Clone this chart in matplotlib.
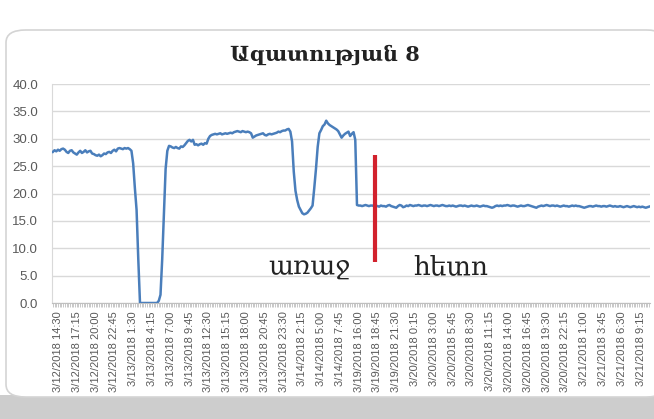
import numpy as np
import pandas as pd
import matplotlib
matplotlib.use("Agg")
import matplotlib.pyplot as plt
from matplotlib.patches import FancyBboxPatch, Rectangle

# temperature readings, 15 minute steps
# first block: 3/12/2018 13:45 .. 3/14/2018 10:00
seg1_start = "2018-03-12 13:45"
seg1 = [
    27.6, 27.9, 27.7, 28.0, 27.8, 28.1, 28.2, 28.0, 27.6, 27.4, 27.8,
    27.9, 27.5, 27.3, 27.1, 27.5, 27.8, 27.4, 27.6, 27.9, 27.5, 27.7,
    27.8, 27.3, 27.2, 27.0, 26.9, 27.1, 26.8, 27.0, 27.3, 27.2, 27.5,
    27.6, 27.4, 27.8, 28.0, 27.7, 28.2, 28.3, 28.2, 28.1, 28.3, 28.2,
    28.3, 28.1, 27.8, 25.5, 21.0, 17.0, 8.0, 0.0, 0.0, 0.0, 0.0,
    0.0, 0.0, 0.0, 0.0, 0.0, 0.0, 0.0, 0.4, 1.5, 8.0, 16.0,
    24.5, 27.8, 28.7, 28.6, 28.4, 28.3, 28.5, 28.3, 28.2, 28.6, 28.5,
    28.8, 29.2, 29.6, 29.8, 29.5, 29.8, 28.9, 29.0, 28.8, 29.0, 29.1,
    28.9, 29.2, 29.1, 30.0, 30.5, 30.7, 30.8, 30.9, 30.8, 30.9, 31.0,
    30.8, 30.9, 31.0, 30.9, 31.0, 31.1, 31.0, 31.2, 31.3, 31.4, 31.3,
    31.2, 31.4, 31.3, 31.2, 31.3, 31.2, 31.0, 30.2, 30.4, 30.6, 30.7,
    30.8, 30.9, 31.0, 30.7, 30.6, 30.8, 30.9, 30.8, 30.9, 31.0, 31.1,
    31.3, 31.2, 31.4, 31.5, 31.5, 31.7, 31.8, 31.3, 29.5, 24.0, 20.5,
    18.8, 17.6, 17.0, 16.4, 16.2, 16.3, 16.5, 16.9, 17.3, 17.8, 21.0,
    24.5, 28.5, 31.0, 31.6, 32.3, 32.6, 33.3, 32.8, 32.5, 32.3, 32.1,
    31.9, 31.7, 31.4, 30.8, 30.2, 30.6, 30.9, 31.1, 31.3, 30.5, 30.9,
    31.2, 29.8,
]
# second block: 3/19/2018 15:45 .. 3/21/2018 10:15
seg2_start = "2018-03-19 15:45"
seg2 = [
    17.9, 17.8, 17.8, 17.7, 17.8, 17.9, 17.8, 17.7, 17.8, 17.8, 17.7,
    17.8, 17.7, 17.6, 17.8, 17.7, 17.7, 17.6, 17.8, 17.9, 17.7, 17.6,
    17.5, 17.4, 17.7, 17.9, 17.8, 17.5, 17.6, 17.8, 17.7, 17.9, 17.8,
    17.7, 17.8, 17.8, 17.9, 17.8, 17.7, 17.8, 17.8, 17.7, 17.8, 17.9,
    17.8, 17.7, 17.8, 17.8, 17.7, 17.8, 17.9, 17.8, 17.7, 17.7, 17.8,
    17.7, 17.8, 17.7, 17.6, 17.7, 17.8, 17.8, 17.7, 17.8, 17.7, 17.6,
    17.7, 17.8, 17.7, 17.7, 17.8, 17.7, 17.6, 17.7, 17.8, 17.7, 17.7,
    17.6, 17.5, 17.4, 17.5, 17.7, 17.8, 17.7, 17.8, 17.7, 17.8, 17.8,
    17.9, 17.8, 17.7, 17.8, 17.8, 17.7, 17.6, 17.7, 17.8, 17.7, 17.7,
    17.8, 17.9, 17.8, 17.7, 17.6, 17.5, 17.4, 17.6, 17.7, 17.8, 17.7,
    17.8, 17.9, 17.8, 17.7, 17.8, 17.8, 17.7, 17.8, 17.7, 17.6, 17.7,
    17.8, 17.7, 17.7, 17.6, 17.7, 17.8, 17.7, 17.8, 17.7, 17.7, 17.6,
    17.5, 17.4, 17.5, 17.6, 17.7, 17.7, 17.6, 17.7, 17.8, 17.7, 17.7,
    17.6, 17.7, 17.7, 17.6, 17.7, 17.8, 17.7, 17.6, 17.7, 17.6, 17.6,
    17.7, 17.6, 17.5, 17.6, 17.7, 17.6, 17.5, 17.6, 17.7, 17.6, 17.5,
    17.6, 17.5, 17.6, 17.5, 17.4, 17.5, 17.6,
]

title = "Ազատության 8"
before_label = "առաջ"
after_label = "հետո"

times = list(pd.date_range(seg1_start, periods=len(seg1), freq="15min")) + \
        list(pd.date_range(seg2_start, periods=len(seg2), freq="15min"))
values = seg1 + seg2
labels = [f"{t.month}/{t.day}/{t.year} {t.hour}:{t.minute:02d}" for t in times]
x = np.arange(len(values))

fig = plt.figure(figsize=(6.54, 4.19), dpi=100)
fig.patch.set_facecolor("white")

# card background + shadow band
fig.patches.append(Rectangle((0, 0), 1, 24 / 419, transform=fig.transFigure,
                             facecolor="#cdcdcd", edgecolor="none", zorder=-2))
fig.patches.append(FancyBboxPatch((6 / 654, 22 / 419), 660 / 654, 367 / 419,
                                  boxstyle="round,pad=0,rounding_size=0.03",
                                  transform=fig.transFigure, facecolor="white",
                                  edgecolor="#d4d4d4", linewidth=1.2, zorder=-1))

ax = fig.add_axes([52 / 654, (419 - 303) / 419, 598 / 654, 219 / 419])
ax.set_zorder(2)
ax.set_facecolor("none")
ax.plot(x, values, color="#4a7ebb", linewidth=1.8, zorder=3)

ax.set_xlim(-0.5, len(values) - 0.5)
ax.set_ylim(0, 40)
ax.set_yticks(np.arange(0, 41, 5))
ax.set_yticklabels([f"{v:.1f}" for v in np.arange(0, 41, 5)])
ax.grid(axis="y", color="#d9d9d9", linewidth=1)
ax.set_axisbelow(True)

ticks = x[3::11]
ax.set_xticks(ticks)
ax.set_xticklabels([labels[i] for i in ticks], rotation=90,
                   fontsize=8, family="Liberation Sans", color="#595959")
ax.set_xticks(x, minor=True)
ax.tick_params(axis="x", which="both", length=3, color="#bfbfbf", width=0.6, pad=3)
ax.tick_params(axis="y", length=0, labelsize=9.5, labelcolor="#595959", pad=10)
for lab in ax.get_yticklabels():
    lab.set_family("Liberation Sans")

for side in ["top", "right"]:
    ax.spines[side].set_visible(False)
ax.spines["left"].set_color("#d9d9d9")
ax.spines["bottom"].set_color("#bfbfbf")

# divider between before/after
ax.plot([188.3, 188.3], [7.5, 27.1], color="#d2222d", linewidth=3, zorder=4,
        solid_capstyle="butt")
ax.text(150, 6.6, before_label, fontsize=19, family="DejaVu Serif",
        ha="center", va="center", color="#222222")
ax.text(233, 6.6, after_label, fontsize=19, family="DejaVu Serif",
        ha="center", va="center", color="#222222")

fig.text(325 / 654, (419 - 55) / 419, title, fontsize=15, fontweight="bold",
         family="DejaVu Serif", ha="center", va="center", color="#222222")

fig.savefig("out.png", dpi=100)
